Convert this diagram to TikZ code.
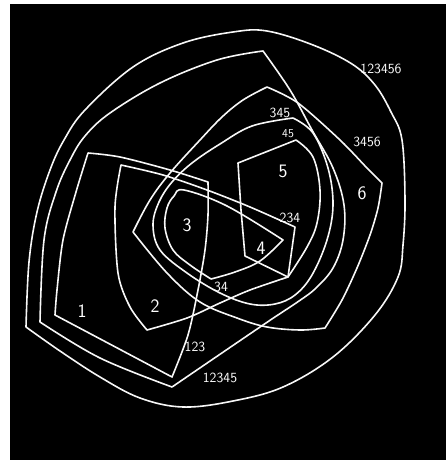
\documentclass[tikz,border=0pt]{standalone}
\usepackage{tikz}
\usetikzlibrary{calc}

\begin{document}
\begin{tikzpicture}[x=1pt,y=-1pt,
  setline/.style={white!94!gray, line width=1.6pt, line join=round, line cap=round},
  setname/.style={white, font=\fontsize{14}{14}\selectfont\sffamily, inner sep=0pt},
  elem/.style={white, font=\fontsize{19}{19}\selectfont\sffamily, inner sep=0pt}]
  % Frame (white strip left and top, black board)
  \useasboundingbox (0,0) rectangle (446,460);
  \fill[white] (0,0) rectangle (446,460);
  \fill[black] (10,4) rectangle (446,460);
  % Outer curve 123456
  \draw[setline] plot[smooth, tension=0.6] coordinates {(26,327) (29,262) (37,212) (50,170) (64,140) (85,110) (133,67) (183,43) (233,32) (267,31) (313,45) (352,64) (375,85) (391,112) (402,140) (405,200) (403,245) (398,277) (375,315) (333,357) (283,387) (233,401) (183,407) (140,398) (100,377) (60,351) (26,327)};
  % Curve 12345
  \draw[setline] plot[smooth, tension=0.6] coordinates {(40,322) (44,240) (56,192) (70,160) (85,136) (110,113) (160,83) (217,60) (263,51)}
    -- plot[smooth, tension=0.6] coordinates {(263,51) (290,90) (312,130) (333,168) (344,205) (343,240) (333,268) (316,288) (299,301) (263,325) (172,387)}
    -- plot[smooth, tension=0.6] coordinates {(172,387) (100,358) (40,322)};
  % Curve 3456
  \draw[setline] plot[smooth, tension=0.5] coordinates {(267,87) (298,103) (340,140) (367,168) (382,183)}
    -- plot[smooth, tension=0.5] coordinates {(382,183) (378,208) (370,235) (357,268) (342,300) (325,328)}
    -- plot[smooth, tension=0.6] coordinates {(325,328) (300,330) (267,327) (237,318) (200,302) (167,273) (133,232)}
    -- plot[smooth, tension=0.6] coordinates {(133,232) (150,200) (170,173) (200,140) (222,117) (243,100) (267,87)};
  % Curve 345
  \draw[setline] plot[smooth, tension=0.6] coordinates {(293,118) (313,133) (328,168) (333,205) (327,240) (312,275) (295,295) (275,304) (250,304) (220,293) (187,273) (160,250) (153,225) (159,202) (172,182) (192,163) (220,144) (252,126) (293,118)};
  % Curve 45
  \draw[setline] (245,256) -- (241,210) -- (238,163) -- (296,140)
    -- plot[smooth, tension=0.6] coordinates {(296,140) (313,157) (320,190) (317,223) (307,247) (288,277)} -- cycle;
  % Curve 34
  \draw[setline] plot[smooth, tension=0.6] coordinates {(211,279) (190,265) (173,250) (165,228) (167,208) (174,196) (184,190) (227,206) (283,240)}
    -- plot[smooth, tension=0.6] coordinates {(283,240) (260,261) (235,272) (211,279)};
  % Curve 234
  \draw[setline] plot[smooth, tension=0.5] coordinates {(121,165) (163,175) (207,190) (250,207) (295,227)}
    -- (288,277)
    -- plot[smooth, tension=0.5] coordinates {(288,277) (250,290) (220,303) (187,318) (147,330)}
    -- plot[smooth, tension=0.5] coordinates {(147,330) (130,307) (118,273) (115,207) (121,165)};
  % Curve 123
  \draw[setline] plot[smooth, tension=0.5] coordinates {(88,153) (120,157) (170,170) (208,182)}
    -- plot[smooth, tension=0.5] coordinates {(208,182) (208,215) (205,250) (198,290) (188,335) (172,377)}
    -- (55,315)
    -- plot[smooth, tension=0.5] coordinates {(55,315) (57,290) (63,240) (76,192) (88,153)};
  % Set names
  \node[setname] (n123456) at (381,69) {123456};
  \node[setname] (n3456) at (367,142) {3456};
  \node[setname] (n345) at (280,113) {345};
  \node[setname, font=\fontsize{12}{12}\selectfont\sffamily] (n45) at (288,134) {45};
  \node[setname] (n234) at (290,218) {234};
  \node[setname] (n34) at (221,287) {34};
  \node[setname] (n123) at (195,347) {123};
  \node[setname] (n12345) at (220,378) {12345};
  % Elements
  \node[elem] (e1) at (82,311) {1};
  \node[elem] (e2) at (155,306) {2};
  \node[elem] (e3) at (187,225) {3};
  \node[elem] (e4) at (261,248) {4};
  \node[elem] (e5) at (283,171) {5};
  \node[elem] (e6) at (362,193) {6};
\end{tikzpicture}
\end{document}
